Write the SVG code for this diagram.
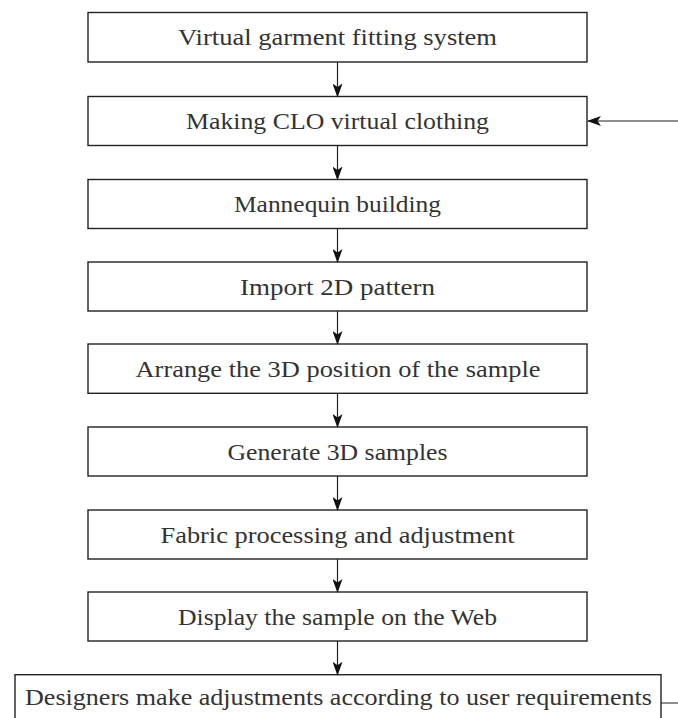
<svg xmlns="http://www.w3.org/2000/svg" width="678" height="718" viewBox="0 0 678 718">
<style>
.box{fill:#fff;stroke:#222;stroke-width:1.4}
.lbl{font-family:"Liberation Serif","DejaVu Serif",serif;font-size:23px;fill:#333;text-anchor:middle}
.con{fill:none;stroke:#222;stroke-width:1.2}
</style>
<defs>
<marker id="ah" viewBox="0 0 14 10" refX="13" refY="5" markerWidth="14" markerHeight="10" markerUnits="userSpaceOnUse" orient="auto">
<path d="M0,0 L14,5 L0,10 L3.5,5 Z" fill="#111"/>
</marker>
</defs>
<rect width="678" height="718" fill="#fff"/>
<g id="n1"><rect class="box" x="88" y="12.5" width="499" height="49.5"/><text class="lbl" x="337.5" y="45" textLength="319" lengthAdjust="spacingAndGlyphs">Virtual garment fitting system</text></g>
<g id="n2"><rect class="box" x="88" y="96.5" width="499" height="49"/><text class="lbl" x="337.5" y="129" textLength="303" lengthAdjust="spacingAndGlyphs">Making CLO virtual clothing</text></g>
<g id="n3"><rect class="box" x="88" y="179.5" width="499" height="49"/><text class="lbl" x="337.5" y="212" textLength="207" lengthAdjust="spacingAndGlyphs">Mannequin building</text></g>
<g id="n4"><rect class="box" x="88" y="262" width="499" height="49"/><text class="lbl" x="337.5" y="294.5" textLength="195" lengthAdjust="spacingAndGlyphs">Import 2D pattern</text></g>
<g id="n5"><rect class="box" x="88" y="344" width="499" height="49.3"/><text class="lbl" x="338" y="376.7" textLength="405" lengthAdjust="spacingAndGlyphs">Arrange the 3D position of the sample</text></g>
<g id="n6"><rect class="box" x="88" y="427" width="499" height="49"/><text class="lbl" x="337.5" y="459.5" textLength="220" lengthAdjust="spacingAndGlyphs">Generate 3D samples</text></g>
<g id="n7"><rect class="box" x="88" y="510" width="499" height="49"/><text class="lbl" x="337.5" y="542.5" textLength="354" lengthAdjust="spacingAndGlyphs">Fabric processing and adjustment</text></g>
<g id="n8"><rect class="box" x="88" y="592" width="499" height="49"/><text class="lbl" x="337.5" y="624.5" textLength="319" lengthAdjust="spacingAndGlyphs">Display the sample on the Web</text></g>
<g id="n9"><rect class="box" x="15" y="674.7" width="646" height="60"/><text class="lbl" x="338.5" y="705" textLength="627" lengthAdjust="spacingAndGlyphs">Designers make adjustments according to user requirements</text></g>
<g id="connectors">
<path class="con" marker-end="url(#ah)" d="M337.5,62 V96.5"/>
<path class="con" marker-end="url(#ah)" d="M337.5,145.5 V179.5"/>
<path class="con" marker-end="url(#ah)" d="M337.5,228.5 V262"/>
<path class="con" marker-end="url(#ah)" d="M337.5,311 V344"/>
<path class="con" marker-end="url(#ah)" d="M337.5,393.3 V427"/>
<path class="con" marker-end="url(#ah)" d="M337.5,476 V510"/>
<path class="con" marker-end="url(#ah)" d="M337.5,559 V592"/>
<path class="con" marker-end="url(#ah)" d="M337.5,641 V674.7"/>
<path class="con" marker-end="url(#ah)" d="M661,703 H700 V121 H588"/>
</g>
</svg>
